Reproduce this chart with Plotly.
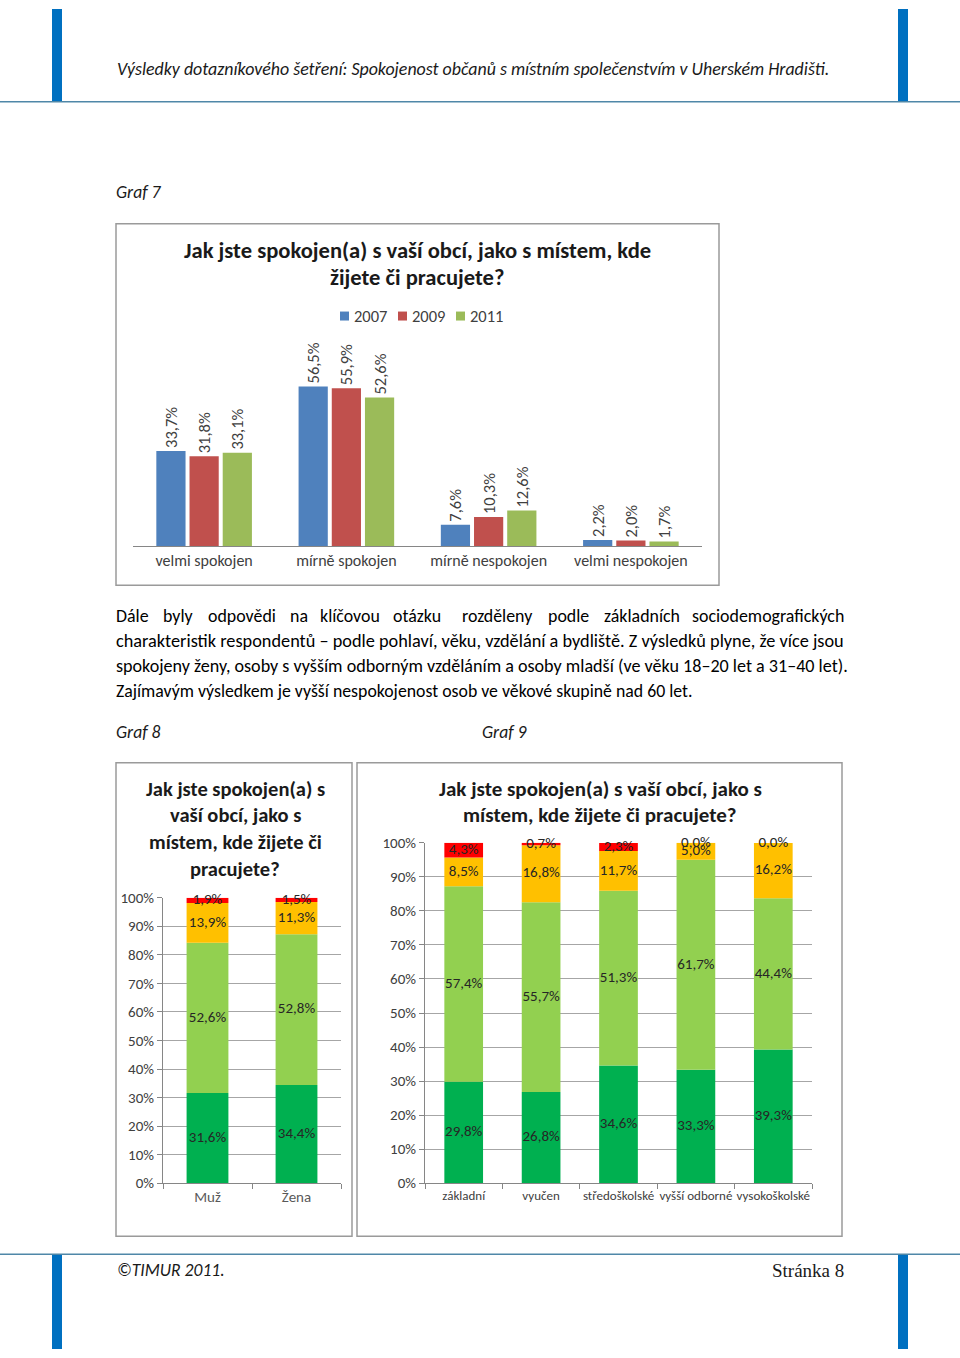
import plotly.graph_objects as go
import numpy as np

W, H = 960, 1358
# the rendered page shows the figure's paper between y=8 and y=1350
TOP_OFF, PAPER_H = 8, 1342

# ---------------- data ----------------
# Graf 7
cat7 = ["velmi spokojen", "mírně spokojen", "mírně nespokojen", "velmi nespokojen"]
years7 = ["2007", "2009", "2011"]
v2007 = [33.7, 56.5, 7.6, 2.2]
v2009 = [31.8, 55.9, 10.3, 2.0]
v2011 = [33.1, 52.6, 12.6, 1.7]
colors7 = ["#4f81bd", "#c0504d", "#9bbb59"]

# Graf 8 (pohlaví)
cat8 = ["Muž", "Žena"]
g8_velmi_spok = [31.6, 34.4]
g8_mirne_spok = [52.6, 52.8]
g8_mirne_nesp = [13.9, 11.3]
g8_velmi_nesp = [1.9, 1.5]

# Graf 9 (vzdělání)
cat9 = ["základní", "vyučen", "středoškolské", "vyšší odborné", "vysokoškolské"]
g9_velmi_spok = [29.8, 26.8, 34.6, 33.3, 39.3]
g9_mirne_spok = [57.4, 55.7, 51.3, 61.7, 44.4]
g9_mirne_nesp = [8.5, 16.8, 11.7, 5.0, 16.2]
g9_velmi_nesp = [4.3, 0.7, 2.3, 0.0, 0.0]

stack_colors = ["#00b050", "#92d050", "#ffc000", "#ff0000"]
pct_ticks = [0, 10, 20, 30, 40, 50, 60, 70, 80, 90, 100]
pct_labels = [f"{t}%" for t in pct_ticks]

FONT = "Carlito, Lato, sans-serif"


def fmt(v):
    return f"{v:.1f}".replace(".", ",") + "%"


def px(x):
    return x / W


def py(y):
    return 1 - (y - TOP_OFF) / PAPER_H


fig = go.Figure()

# ---------------- Graf 7 ----------------
for name, vals, col in zip(years7, [v2007, v2009, v2011], colors7):
    fig.add_trace(go.Bar(
        x=cat7, y=vals, name=name, marker=dict(color=col, line_width=0),
        text=[fmt(v) for v in vals], textposition="outside", textangle=-90,
        constraintext="none", cliponaxis=False,
        textfont=dict(family=FONT, size=16.5, color="#404040"),
        xaxis="x", yaxis="y", showlegend=False))


# ---------------- stacked charts ----------------
def add_stack(cats, series, xa, ya, width, size):
    base = np.zeros(len(cats))
    for vals, col in zip(series, stack_colors):
        vals = np.array(vals, dtype=float)
        fig.add_trace(go.Bar(
            x=cats, y=vals, base=base.copy(), width=width, offset=-width / 2,
            offsetgroup="stk", marker=dict(color=col, line_width=0),
            xaxis=xa, yaxis=ya, showlegend=False))
        base = base + vals
    base = np.zeros(len(cats))
    for vals in series:
        vals = np.array(vals, dtype=float)
        fig.add_trace(go.Scatter(
            x=cats, y=base + vals / 2, mode="text",
            text=[fmt(v) for v in vals], cliponaxis=False,
            textfont=dict(family=FONT, size=size, color="#262626"),
            xaxis=xa, yaxis=ya, showlegend=False))
        base = base + vals


add_stack(cat8, [g8_velmi_spok, g8_mirne_spok, g8_mirne_nesp, g8_velmi_nesp],
          "x2", "y2", 0.47, 15)
add_stack(cat9, [g9_velmi_spok, g9_mirne_spok, g9_mirne_nesp, g9_velmi_nesp],
          "x3", "y3", 0.5, 15)

axis_gray = "#868686"
grid_gray = "#a6a6a6"

fig.update_layout(
    width=W, height=H, autosize=False, margin=dict(l=0, r=0, t=0, b=0),
    paper_bgcolor="white", plot_bgcolor="rgba(0,0,0,0)",
    showlegend=False, barmode="group", bargap=0.3, bargroupgap=0.12,
    font=dict(family=FONT, color="#404040"),
    xaxis=dict(domain=[px(133), px(702)], anchor="y", showline=True,
               linecolor=axis_gray, linewidth=1, ticks="", showgrid=False,
               tickfont=dict(family=FONT, size=16, color="#404040"), fixedrange=True),
    yaxis=dict(domain=[py(546), py(330)], anchor="x", range=[0, 76.3],
               visible=False, fixedrange=True),
    xaxis2=dict(domain=[px(163), px(341)], anchor="y2", showline=True,
                linecolor=axis_gray, ticks="outside", tickson="boundaries",
                ticklen=5, tickcolor=axis_gray, showgrid=False, tickangle=0,
                tickfont=dict(family=FONT, size=15, color="#595959")),
    yaxis2=dict(domain=[py(1184), py(898)], anchor="x2", range=[0, 100],
                tickvals=pct_ticks, ticktext=pct_labels, showline=True,
                linecolor=axis_gray, ticks="outside", ticklen=5, tickcolor=axis_gray,
                showgrid=True, gridcolor=grid_gray, zeroline=False,
                tickfont=dict(family=FONT, size=15, color="#404040")),
    xaxis3=dict(domain=[px(425), px(812)], anchor="y3", showline=True,
                linecolor=axis_gray, ticks="outside", tickson="boundaries",
                ticklen=5, tickcolor=axis_gray, showgrid=False, tickangle=0,
                tickfont=dict(family=FONT, size=13, color="#404040")),
    yaxis3=dict(domain=[py(1184), py(843)], anchor="x3", range=[0, 100],
                tickvals=pct_ticks, ticktext=pct_labels, showline=True,
                linecolor=axis_gray, ticks="outside", ticklen=5, tickcolor=axis_gray,
                showgrid=True, gridcolor=grid_gray, zeroline=False,
                tickfont=dict(family=FONT, size=15, color="#404040")),
)

# ---------------- page decorations ----------------
shapes = []
blue = "#0070c0"
rule = "#4f87a8"
for x0 in (52, 898):
    shapes.append(dict(type="rect", xref="paper", yref="paper",
                       x0=px(x0), x1=px(x0 + 10), y0=py(101), y1=1,
                       fillcolor=blue, line_width=0, layer="above"))
    shapes.append(dict(type="rect", xref="paper", yref="paper",
                       x0=px(x0), x1=px(x0 + 10), y0=0, y1=py(1255),
                       fillcolor=blue, line_width=0, layer="above"))
for yy in (101, 1255):
    shapes.append(dict(type="line", xref="paper", yref="paper",
                       x0=0, x1=1, y0=py(yy), y1=py(yy),
                       line=dict(color=rule, width=1.5)))
# chart frames
for (x0, y0, x1, y1) in [(116, 223, 719, 585), (116, 763, 352, 1237), (357, 763, 842, 1237)]:
    shapes.append(dict(type="rect", xref="paper", yref="paper",
                       x0=px(x0), x1=px(x1), y0=py(y1), y1=py(y0),
                       line=dict(color="#9a9a9a", width=1.5), fillcolor="rgba(0,0,0,0)"))
# legend squares for Graf 7
leg_x = [340, 398, 456]
for lx, col in zip(leg_x, colors7):
    shapes.append(dict(type="rect", xref="paper", yref="paper",
                       x0=px(lx), x1=px(lx + 9), y0=py(320), y1=py(311),
                       fillcolor=col, line_width=0))

annotations = []


def ann(text, x, y, size, xanchor="left", color="#1a1a1a", family=FONT):
    annotations.append(dict(text=text, x=px(x), y=py(y), xref="paper", yref="paper",
                            xanchor=xanchor, yanchor="middle", showarrow=False,
                            font=dict(size=size, color=color, family=family)))


# header / footer
ann("<i>Výsledky dotazníkového šetření: Spokojenost občanů s místním společenstvím v Uherském Hradišti.</i>",
    115, 68, 17.9)
ann("<i>©TIMUR 2011.</i>", 115, 1271, 17.6)
ann("Stránka 8", 846, 1271, 19, xanchor="right", family="Liberation Serif, serif")

# graf captions
ann("<i>Graf 7</i>", 114, 191, 17.6)
ann("<i>Graf 8</i>", 114, 732, 17.6)
ann("<i>Graf 9</i>", 480, 732, 17.6)

# Graf 7 title + legend
ann("<b>Jak jste spokojen(a) s vaší obcí, jako s místem, kde</b>", 417, 249, 22.6, "center")
ann("<b>žijete či pracujete?</b>", 417, 276, 22.6, "center")
for lx, name in zip(leg_x, years7):
    ann(name, lx + 12, 315, 16.5, color="#404040")

# Graf 8 title
for i, line in enumerate(["Jak jste spokojen(a) s", "vaší obcí, jako s",
                          "místem, kde žijete či", "pracujete?"]):
    ann(f"<b>{line}</b>", 235, 789 + i * 26.7, 20.5, "center")
# Graf 9 title
for i, line in enumerate(["Jak jste spokojen(a) s vaší obcí, jako s",
                          "místem, kde žijete či pracujete?"]):
    ann(f"<b>{line}</b>", 600, 789 + i * 26.5, 21, "center")

# paragraph (line 1 justified word by word)
words1 = ["Dále", "byly", "odpovědi", "na", "klíčovou", "otázku", "rozděleny",
          "podle", "základních", "sociodemografických"]
wx1 = [114, 161, 206, 288, 318, 391, 460, 546, 602, 690]
for w, x in zip(words1, wx1):
    ann(w, x, 616, 17.9, color="#000000")
ann("charakteristik respondentů – podle pohlaví, věku, vzdělání a bydliště. Z výsledků plyne, že více jsou",
    114, 641, 18.3, color="#000000")
ann("spokojeny ženy, osoby s vyšším odborným vzděláním a osoby mladší (ve věku 18–20 let a 31–40 let).",
    114, 666, 18.1, color="#000000")
ann("Zajímavým výsledkem je vyšší nespokojenost osob ve věkové skupině nad 60 let.",
    114, 691, 17.8, color="#000000")

fig.update_layout(shapes=shapes, annotations=annotations)

post = (
    "var s=document.documentElement.style;s.margin='0';s.padding='0';s.overflow='hidden';"
    "var b=document.body.style;b.margin='0';b.padding='0';b.overflow='hidden';"
    "var g=document.getElementById('{plot_id}');g.style.position='absolute';"
    "g.style.left='0px';g.style.top='0px';"
)
fig.write_html("out.html", config={"displayModeBar": False, "responsive": False},
               post_script=post)
